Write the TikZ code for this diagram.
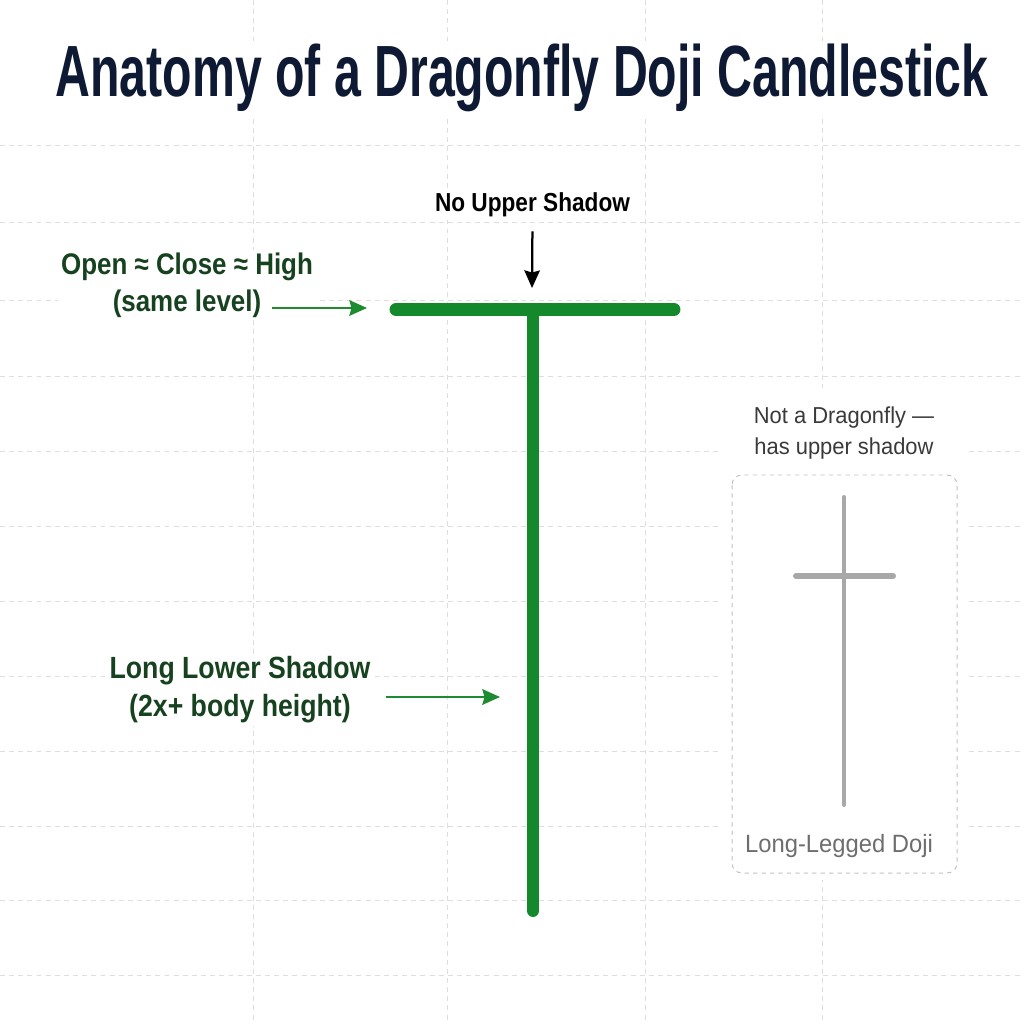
\documentclass[tikz,border=0pt]{standalone}
\usepackage{fontspec}
\setmainfont{Liberation Sans}
\newfontfamily\titlefont{Liberation Sans}[FakeStretch=0.665]
\newfontfamily\labelfont{Liberation Sans}[FakeStretch=0.87]
\newfontfamily\notefont{Liberation Sans}[FakeStretch=0.95]
\usepackage{tikz}
\usetikzlibrary{arrows.meta,calc}
\definecolor{titlenavy}{HTML}{0E1A33}
\definecolor{candlegreen}{HTML}{13892B}
\definecolor{labelgreen}{HTML}{17421F}
\definecolor{arrowgreen}{HTML}{1D8B2F}
\definecolor{gridgrey}{HTML}{DEDEDE}
\definecolor{dojigrey}{HTML}{A8A8A8}
\definecolor{boxgrey}{HTML}{C2C2C2}
\definecolor{notegrey}{HTML}{3A3A3A}
\definecolor{capgrey}{HTML}{6E6E6E}
\tikzset{
  gridln/.style  = {draw=gridgrey, line width=0.7pt, dash pattern=on 3.5pt off 3pt},
  lbl/.style     = {fill=white, inner sep=2pt, align=center},
  glbl/.style    = {lbl, text=labelgreen, font=\labelfont\bfseries\fontsize{21.2}{26.5}\selectfont},
  notelbl/.style = {lbl, text=notegrey, font=\notefont\fontsize{16.4}{22.5}\selectfont},
  stick/.style   = {draw=candlegreen, line cap=round},
  dojiln/.style  = {draw=dojigrey, line cap=round},
  notebox/.style = {draw=boxgrey, dashed, line width=0.7pt, rounded corners=7pt, fill=white},
  garr/.style    = {-{Stealth[length=12.5pt, width=11pt, inset=1.5pt]}, draw=arrowgreen,
                    fill=arrowgreen, line width=1.8pt},
  karr/.style    = {-{Stealth[length=12.5pt, width=11pt, inset=1.5pt]}, draw=black,
                    fill=black, line width=1.6pt},
}

\begin{document}
\begin{tikzpicture}[x=0.025cm, y=-0.025cm]
  \fill[white] (0,0) rectangle (1024,1024);
  \useasboundingbox (0,0) rectangle (1024,1024);

  % ---------------- Grid ----------------
  \foreach \gy in {145,222,300,376,451,526,601,676,751,826,900,975}
    \draw[gridln] (0,\gy) -- (1024,\gy);
  \foreach \gx in {253,447,645,822}
    \draw[gridln] (\gx,0) -- (\gx,1024);

  % ---------------- Title ----------------
  \node[lbl, anchor=base, text=titlenavy,
        font=\titlefont\bfseries\fontsize{51.6}{60}\selectfont] (title) at (522,97)
        {Anatomy of a Dragonfly Doji Candlestick};

  % ---------------- Dragonfly doji ----------------
  \coordinate (bodyL) at (396,309.5);
  \coordinate (bodyR) at (674,309.5);
  \coordinate (wickT) at (533,309.5);
  \coordinate (wickB) at (533,911);
  \draw[stick, line width=8.5pt] (wickT) -- (wickB);
  \draw[stick, line width=9.2pt] (bodyL) -- (bodyR);

  \node[lbl, font=\labelfont\bfseries\fontsize{18.5}{22}\selectfont] (noupper) at (532.5,205)
        {No Upper Shadow};
  \coordinate (uppertip) at (532,288);
  \draw[karr, shorten <=8pt] (noupper.south) -- (uppertip);

  \node[glbl] (samelvl) at (187,285) {Open ≈ Close ≈ High\\(same level)};
  \coordinate (lvlstart) at (272,308);
  \coordinate (lvltip) at (367,308);
  \draw[garr] (lvlstart) -- (lvltip);

  \node[glbl, font=\labelfont\bfseries\fontsize{21.8}{27}\selectfont] (lowshadow) at (240,690)
        {Long Lower Shadow\\(2x+ body height)};
  \coordinate (lowstart) at (386,697);
  \coordinate (lowtip) at (500,697);
  \draw[garr] (lowstart) -- (lowtip);

  % ---------------- Counter example ----------------
  \fill[white] (720,388) rectangle (967,880);
  \node[notelbl] (notdfly) at (844,433) {Not a Dragonfly —\\has upper shadow};
  \draw[notebox] (732,475) rectangle (957,873);
  \draw[dojiln, line width=2.8pt] (844,497) -- (844,805);
  \draw[dojiln, line width=4.3pt] (796,576) -- (893,576);
  \node[lbl, text=capgrey, font=\notefont\fontsize{17.8}{22}\selectfont] (lldoji) at (839,846)
        {Long-Legged Doji};
\end{tikzpicture}
\end{document}
